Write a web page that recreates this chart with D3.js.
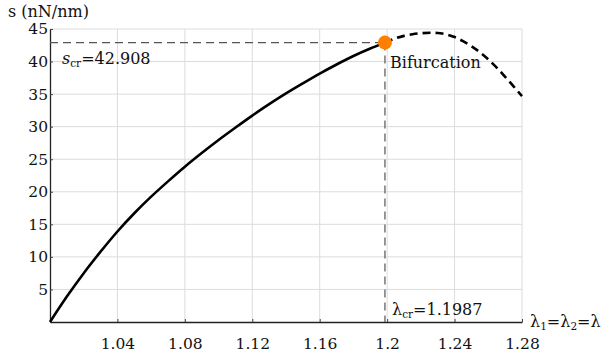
<!DOCTYPE html>
<html>
<head>
<meta charset="utf-8">
<script src="https://cdn.jsdelivr.net/npm/d3@7"></script>
<style>
  body { margin: 0; background: #fff; }
  svg text { font-family: "DejaVu Serif", serif; fill: #111; }
</style>
</head>
<body>
<div id="chart"></div>
<script>
// stable branch
const stableLambda = [1.00, 1.01, 1.02, 1.03, 1.04, 1.05, 1.06, 1.07, 1.08, 1.09, 1.10,
  1.11, 1.12, 1.13, 1.14, 1.15, 1.16, 1.17, 1.18, 1.19, 1.1987];
const stableS = [0, 3.9, 7.5, 10.8, 13.9, 16.7, 19.25, 21.6, 23.85, 25.95, 27.95,
  29.85, 31.7, 33.45, 35.1, 36.65, 38.15, 39.55, 40.85, 42.0, 42.908];
// unstable branch (dashed)
const unstableLambda = [1.1987, 1.205, 1.21, 1.215, 1.22, 1.226, 1.23, 1.235, 1.24, 1.245,
  1.25, 1.255, 1.26, 1.265, 1.27, 1.275, 1.28];
const unstableS = [42.908, 43.57, 43.945, 44.195, 44.345, 44.417, 44.385, 44.185, 43.76, 43.135,
  42.36, 41.435, 40.335, 39.06, 37.66, 36.185, 34.685];

const lambdaCr = 1.1987;
const sCr = 42.908;

const xTicks = [1.04, 1.08, 1.12, 1.16, 1.2, 1.24, 1.28];
const xTickLabels = ["1.04", "1.08", "1.12", "1.16", "1.2", "1.24", "1.28"];
const yTicks = [5, 10, 15, 20, 25, 30, 35, 40, 45];

const W = 603, H = 354;
const margin = { top: 29, right: 81, bottom: 32, left: 50 };

const svg = d3.select("#chart").append("svg")
  .attr("width", W).attr("height", H);

const x = d3.scaleLinear().domain([1, 1.28]).range([margin.left, W - margin.right]);
const y = d3.scaleLinear().domain([0, 45]).range([H - margin.bottom, margin.top]);

// grid
svg.append("g").selectAll("line").data(xTicks).join("line")
  .attr("x1", d => x(d)).attr("x2", d => x(d))
  .attr("y1", y(0)).attr("y2", y(45))
  .attr("stroke", "#dcdcdc").attr("stroke-width", 1);
svg.append("g").selectAll("line").data(yTicks).join("line")
  .attr("x1", x(1)).attr("x2", x(1.28))
  .attr("y1", d => y(d)).attr("y2", d => y(d))
  .attr("stroke", "#dcdcdc").attr("stroke-width", 1);

// axes
const xAxis = svg.append("g")
  .attr("transform", `translate(0,${y(0)})`)
  .call(d3.axisBottom(x).tickValues(xTicks).tickSizeInner(-3).tickSizeOuter(0)
    .tickFormat((d, i) => xTickLabels[i]));
xAxis.attr("font-family", null).attr("font-size", null);
xAxis.select(".domain").attr("stroke", "#222").attr("stroke-width", 1.3);
xAxis.selectAll(".tick line").attr("stroke", "#444");
xAxis.selectAll(".tick text").attr("font-size", 15.5).attr("y", 13).attr("dy", "0.9em");

const yAxis = svg.append("g")
  .attr("transform", `translate(${x(1)},0)`)
  .call(d3.axisLeft(y).tickValues(yTicks).tickSizeInner(-3).tickSizeOuter(0));
yAxis.attr("font-family", null).attr("font-size", null);
yAxis.select(".domain").attr("stroke", "#222").attr("stroke-width", 1.3);
yAxis.selectAll(".tick line").attr("stroke", "#444");
yAxis.selectAll(".tick text").attr("font-size", 15.5).attr("x", -2);

// critical guide lines
svg.append("line")
  .attr("x1", x(1)).attr("x2", x(lambdaCr))
  .attr("y1", y(sCr)).attr("y2", y(sCr))
  .attr("stroke", "#555").attr("stroke-width", 1.2).attr("stroke-dasharray", "8,5");
svg.append("line")
  .attr("x1", x(lambdaCr)).attr("x2", x(lambdaCr))
  .attr("y1", y(sCr)).attr("y2", y(0))
  .attr("stroke", "#555").attr("stroke-width", 1.2).attr("stroke-dasharray", "8,5");

// curves
const line = d3.line().curve(d3.curveMonotoneX)
  .x(d => x(d[0])).y(d => y(d[1]));

svg.append("path")
  .datum(d3.zip(stableLambda, stableS))
  .attr("d", line)
  .attr("fill", "none").attr("stroke", "#000").attr("stroke-width", 2.6);

svg.append("path")
  .datum(d3.zip(unstableLambda, unstableS))
  .attr("d", line)
  .attr("fill", "none").attr("stroke", "#000").attr("stroke-width", 2.6)
  .attr("stroke-dasharray", "8,5");

// bifurcation point
svg.append("circle")
  .attr("cx", x(lambdaCr)).attr("cy", y(sCr)).attr("r", 7)
  .attr("fill", "#ff8000");

// labels
svg.append("text").attr("x", 8).attr("y", 17).attr("font-size", 16).text("s (nN/nm)");

const sl = svg.append("text").attr("x", 62).attr("y", 64).attr("font-size", 16);
sl.append("tspan").attr("font-style", "italic").text("s");
sl.append("tspan").attr("font-size", 10.5).attr("dy", 3).text("cr");
sl.append("tspan").attr("dy", -3).text("=42.908");

svg.append("text").attr("x", 390).attr("y", 68).attr("font-size", 16).text("Bifurcation");

const ll = svg.append("text").attr("x", 392).attr("y", 315).attr("font-size", 16);
ll.append("tspan").text("λ");
ll.append("tspan").attr("font-size", 10.5).attr("dy", 3).text("cr");
ll.append("tspan").attr("dy", -3).text("=1.1987");

const xl = svg.append("text").attr("x", 530).attr("y", 327).attr("font-size", 16);
xl.append("tspan").text("λ");
xl.append("tspan").attr("font-size", 10.5).attr("dy", 3).text("1");
xl.append("tspan").attr("dy", -3).text("=λ");
xl.append("tspan").attr("font-size", 10.5).attr("dy", 3).text("2");
xl.append("tspan").attr("dy", -3).text("=λ");
</script>
</body>
</html>
